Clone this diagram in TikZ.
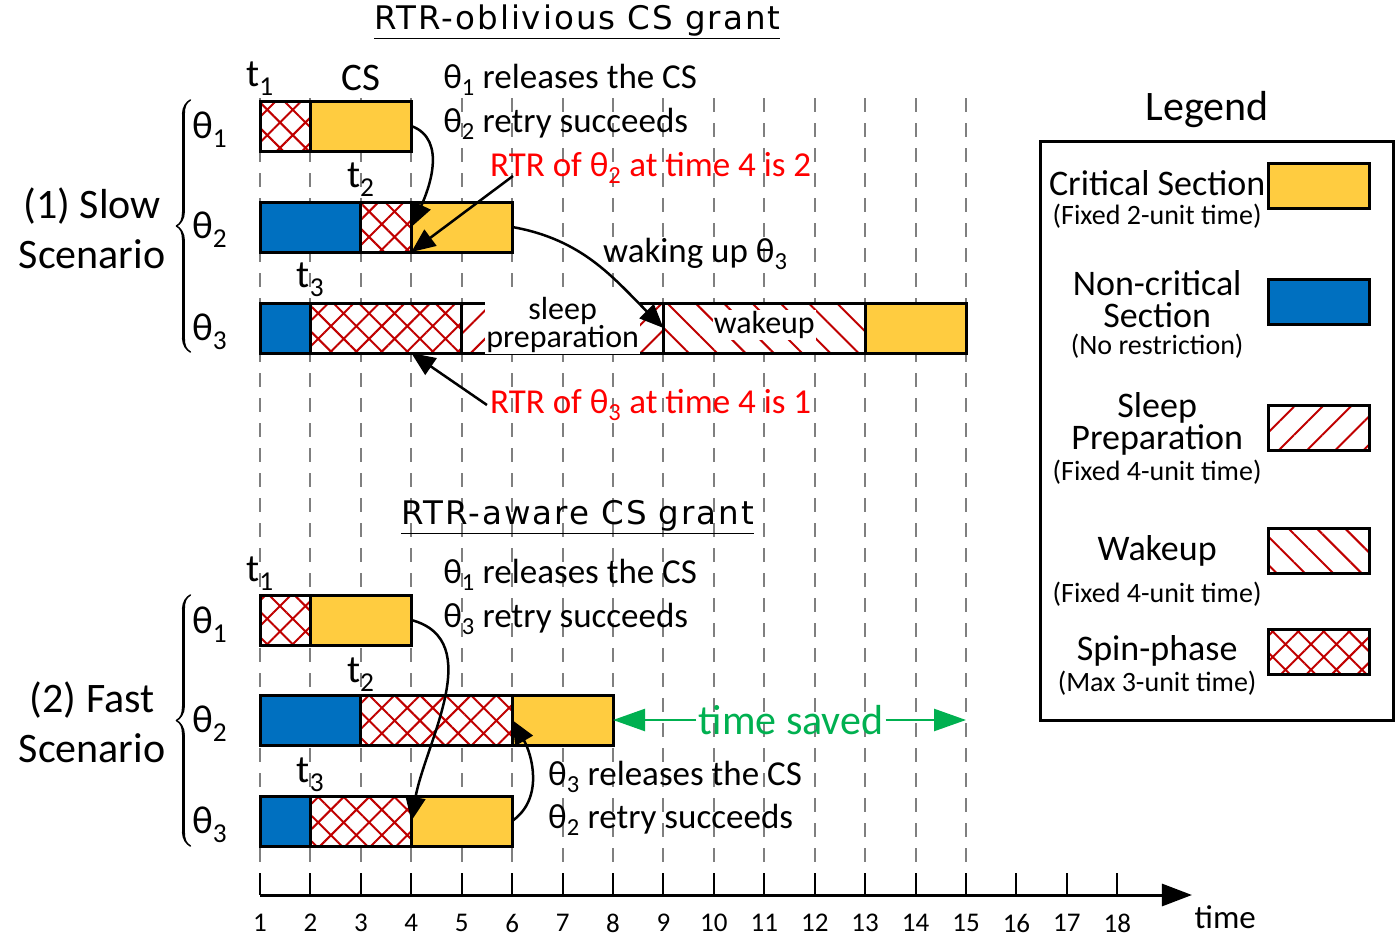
\documentclass[tikz,border=0pt]{standalone}
\usepackage{fontspec}
\setmainfont{Carlito}
\newfontfamily\headfont[LetterSpace=6]{DejaVu Sans}
\usetikzlibrary{patterns.meta,arrows.meta,decorations.pathreplacing,calligraphy}

\definecolor{csyellow}{HTML}{FFCC40}
\definecolor{ncsblue}{HTML}{0070C0}
\definecolor{hatchred}{HTML}{C00000}
\definecolor{rtrred}{HTML}{FF0000}
\definecolor{savedgreen}{HTML}{00B050}
\definecolor{gridgray}{HTML}{7F7F7F}

\newcommand{\thsub}[1]{θ\textsubscript{#1}}
\newcommand{\tsub}[1]{t\textsubscript{#1}}

\tikzset{
  seg/.style={draw=black, line width=3pt, minimum height=50pt, inner sep=0pt, outer sep=0pt, anchor=west},
  span/.style={minimum width=#1*50.43pt},
  csbox/.style={seg, fill=csyellow},
  ncsbox/.style={seg, fill=ncsblue},
  hatched/.style={seg, preaction={fill=white}, pattern color=hatchred},
  spinbox/.style={hatched, pattern={Hatch[angle=45,distance=18pt,line width=2pt]}},
  sleepbox/.style={hatched, pattern={Lines[angle=45,distance=20pt,line width=2pt]}},
  wakebox/.style={hatched, pattern={Lines[angle=-45,distance=20pt,line width=2pt]}},
  heading/.style={font=\headfont\fontsize{32.5}{36}\selectfont, inner sep=1pt},
  scen/.style={font=\fontsize{42}{50}\selectfont, inner sep=1pt, align=center},
  big/.style={font=\fontsize{39}{44}\selectfont, inner sep=1pt},
  lgtext/.style={font=\fontsize{36}{32}\selectfont, inner sep=0pt, align=center},
  note/.style={font=\fontsize{35}{40}\selectfont, anchor=west, inner sep=0pt},
  small/.style={font=\fontsize{28}{30}\selectfont, inner sep=0pt},
  ticklab/.style={font=\fontsize{27}{30}\selectfont, inner sep=0pt},
  inbar/.style={font=\fontsize{32}{26}\selectfont, fill=white, inner sep=1pt},
  grid/.style={draw=gridgray, line width=2pt, dash pattern=on 14pt off 11pt},
  flow/.style={line width=2.5pt, -{Triangle[length=24pt,width=20pt]}},
  savedline/.style={draw=savedgreen, line width=2.5pt, -{Triangle[length=32pt,width=22pt]}},
  axis/.style={line width=3pt, -{Triangle[length=30pt,width=22pt]}},
  brace/.style={decorate, decoration={calligraphic brace, amplitude=14pt}, line width=3pt},
}

\begin{document}
\begin{tikzpicture}[x=50.43pt, y=-1pt]
\useasboundingbox (-4.156,0) rectangle (23.546,937);

% time grid
\foreach \t in {1,...,15}
  \draw[grid] (\t,98) -- (\t,873);

% time axis
\coordinate (origin) at (1,895);
\coordinate (axisend) at (19.48,895);
\draw[axis] (origin) -- (axisend);
\foreach \t in {1,...,18} {
  \draw[line width=2pt] (\t,873) -- (\t,895);
  \node[ticklab] (lab\t) at (\t,923) {\t};
}
\node[font=\fontsize{33}{36}\selectfont, inner sep=0pt] (timelab) at (20.14,917) {time};

%% (1) slow scenario
\node[heading] (title1) at (7.29,22) {\underline{RTR-oblivious CS grant}};

\node[spinbox, span=1] (s1spin) at (1,126) {};
\node[csbox, span=2] (s1cs) at (2,126) {};
\node[ncsbox, span=2] (s2ncs) at (1,227) {};
\node[spinbox, span=1] (s2spin) at (3,227) {};
\node[csbox, span=2] (s2cs) at (4,227) {};
\node[ncsbox, span=1] (s3ncs) at (1,328) {};
\node[spinbox, span=3] (s3spin) at (2,328) {};
\node[sleepbox, span=4] (s3sleep) at (5,328) {};
\node[wakebox, span=4] (s3wake) at (9,328) {};
\node[csbox, span=2] (s3cs) at (13,328) {};
\node[inbar, align=center] (sleeptxt) at (7,325) {sleep\\preparation};
\node[inbar] (waketxt) at (11,325) {wakeup};

\node[big] (t1s) at (1,79) {\tsub{1}};
\node[big] (css) at (3,78) {CS};
\node[big] (t2s) at (3,180) {\tsub{2}};
\node[big] (t3s) at (2,280) {\tsub{3}};
\node[big] (th1s) at (0,130) {\thsub{1}};
\node[big] (th2s) at (0,230) {\thsub{2}};
\node[big] (th3s) at (0,332) {\thsub{3}};
\draw[brace] (-0.38,352) -- (-0.38,100);
\node[scen] (slow) at (-2.33,228) {(1) Slow\\Scenario};

\node[note] (rel1s) at (4.63,80) {\thsub{1} releases the CS};
\node[note] (retry2s) at (4.63,124) {\thsub{2} retry succeeds};
\node[note, text=rtrred] (rtr2) at (5.56,168) {RTR of \thsub{2} at time 4 is 2};
\node[note] (wakeup) at (7.8,254) {waking up \thsub{3}};
\node[note, text=rtrred] (rtr3) at (5.56,405) {RTR of \thsub{3} at time 4 is 1};
\coordinate (s3t4) at (4,353);

\draw[flow] (s1cs.east) to[out=-20, in=65] (s2cs.west);
\draw[flow] ([shift={(23pt,-8pt)}]rtr2.west) -- (s2cs.south west);
\draw[flow] (s2cs.east) to[out=-10, in=135] (s3wake.west);
\draw[flow] ([xshift=-3pt]rtr3.west) -- (s3t4);

%% (2) fast scenario
\node[heading] (title2) at (7.3,517) {\underline{RTR-aware CS grant}};

\node[spinbox, span=1] (f1spin) at (1,620) {};
\node[csbox, span=2] (f1cs) at (2,620) {};
\node[ncsbox, span=2] (f2ncs) at (1,720) {};
\node[spinbox, span=3] (f2spin) at (3,720) {};
\node[csbox, span=2] (f2cs) at (6,720) {};
\node[ncsbox, span=1] (f3ncs) at (1,821) {};
\node[spinbox, span=2] (f3spin) at (2,821) {};
\node[csbox, span=2] (f3cs) at (4,821) {};

\node[big] (t1f) at (1,574) {\tsub{1}};
\node[big] (t2f) at (3,675) {\tsub{2}};
\node[big] (t3f) at (2,775) {\tsub{3}};
\node[big] (th1f) at (0,625) {\thsub{1}};
\node[big] (th2f) at (0,724) {\thsub{2}};
\node[big] (th3f) at (0,825) {\thsub{3}};
\draw[brace] (-0.38,846) -- (-0.38,595);
\node[scen] (fast) at (-2.33,722) {(2) Fast\\Scenario};

\node[note] (rel1f) at (4.63,575) {\thsub{1} releases the CS};
\node[note] (retry3f) at (4.63,619) {\thsub{3} retry succeeds};
\node[note] (rel3f) at (6.71,777) {\thsub{3} releases the CS};
\node[note] (retry2f) at (6.71,820) {\thsub{2} retry succeeds};

\draw[flow] (f1cs.east) to[out=-15, in=80] (f3cs.west);
\draw[flow] (f3cs.east) to[out=35, in=-60] (f2cs.west);

\node[font=\fontsize{42}{46}\selectfont, text=savedgreen, inner sep=2pt] (saved) at (11.53,720) {time saved};
\coordinate (savedend) at (15,720);
\draw[savedline] (saved.west) -- (f2cs.east);
\draw[savedline] (saved.east) -- (savedend);

%% legend
\node[font=\fontsize{42}{46}\selectfont, inner sep=1pt] (legend) at (19.78,110) {Legend};
\draw[line width=3pt] (16.48,141) rectangle (23.48,720);

\node[csbox, span=2, minimum height=45pt] (lgcs) at (21,185.5) {};
\node[ncsbox, span=2, minimum height=45pt] (lgncs) at (21,302) {};
\node[sleepbox, span=2, minimum height=45pt] (lgsleep) at (21,427.5) {};
\node[wakebox, span=2, minimum height=45pt] (lgwake) at (21,550.5) {};
\node[spinbox, span=2, minimum height=45pt] (lgspin) at (21,651.5) {};

\node[lgtext] (lgcstxt) at (18.79,183) {Critical Section};
\node[small] (lgcsnote) at (18.79,216) {(Fixed 2-unit time)};
\node[lgtext] (lgncstxt) at (18.79,299) {Non-critical\\Section};
\node[small] (lgncsnote) at (18.79,346) {(No restriction)};
\node[lgtext] (lgsleeptxt) at (18.79,424) {Sleep\\Preparation};
\node[small] (lgsleepnote) at (18.79,472) {(Fixed 4-unit time)};
\node[lgtext] (lgwaketxt) at (18.79,551) {Wakeup};
\node[small] (lgwakenote) at (18.79,594) {(Fixed 4-unit time)};
\node[lgtext] (lgspintxt) at (18.79,651) {Spin-phase};
\node[small] (lgspinnote) at (18.79,683) {(Max 3-unit time)};
\end{tikzpicture}
\end{document}
